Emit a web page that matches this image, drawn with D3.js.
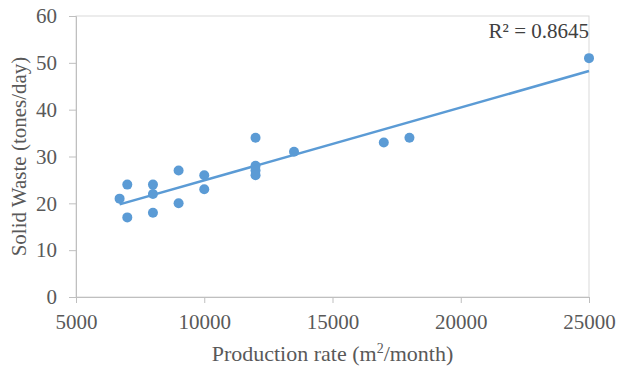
<!DOCTYPE html>
<html>
<head>
<meta charset="utf-8">
<script src="https://cdn.jsdelivr.net/npm/d3@7"></script>
<style>
  body { margin: 0; background: #fff; }
</style>
</head>
<body>
<figure id="scatter" style="margin:0"></figure>
<script>
// production rate (m2/month) vs solid waste (tones/day)
const productionRate = [6700, 7000, 7000, 8000, 8000, 8000, 9000, 9000, 10000, 10000,
  12000, 12000, 12000, 12000, 13500, 17000, 18000, 25000];
const solidWaste = [21, 24, 17, 24, 22, 18, 27, 20, 26, 23,
  34, 28, 27, 26, 31, 33, 34, 51];
const xTicks = [5000, 10000, 15000, 20000, 25000];
const yTicks = [0, 10, 20, 30, 40, 50, 60];

const width = 618, height = 367;
const margin = {top: 16, right: 29, bottom: 70, left: 76};
const blue = "#5b9bd5";
const serif = "'Liberation Serif', 'Times New Roman', serif";

const svg = d3.select("figure#scatter")
  .append("svg")
  .attr("width", width)
  .attr("height", height)
  .style("font-family", serif);

const x = d3.scaleLinear().domain([5000, 25000]).range([margin.left, width - margin.right]);
const y = d3.scaleLinear().domain([0, 60]).range([height - margin.bottom, margin.top]);

// plot area border
svg.append("rect")
  .attr("x", x(5000))
  .attr("y", y(60))
  .attr("width", x(25000) - x(5000))
  .attr("height", y(0) - y(60))
  .attr("fill", "none")
  .attr("stroke", "#d9d9d9");

const xAxis = svg.append("g")
  .attr("transform", "translate(0," + y(0) + ")")
  .call(d3.axisBottom(x).tickValues(xTicks).tickFormat(d3.format("d")).tickSize(6).tickPadding(11));

const yAxis = svg.append("g")
  .attr("transform", "translate(" + x(5000) + ",0)")
  .call(d3.axisLeft(y).tickValues(yTicks).tickSize(7).tickPadding(12));

[xAxis, yAxis].forEach(g => {
  g.attr("font-family", serif).attr("font-size", 21);
  g.select(".domain").attr("stroke", "#bfbfbf");
  g.selectAll(".tick line").attr("stroke", "#bfbfbf");
  g.selectAll("text").attr("fill", "#595959");
});

// linear trend line
const pts = productionRate.map((v, i) => ({x: v, y: solidWaste[i]}));
const mx = d3.mean(pts, d => d.x), my = d3.mean(pts, d => d.y);
const sxy = d3.sum(pts, d => (d.x - mx) * (d.y - my));
const sxx = d3.sum(pts, d => (d.x - mx) ** 2);
const syy = d3.sum(pts, d => (d.y - my) ** 2);
const slope = sxy / sxx, intercept = my - slope * mx;
const r2 = sxy * sxy / (sxx * syy);
const xExt = d3.extent(productionRate);

svg.append("path")
  .datum(xExt.map(v => [v, intercept + slope * v]))
  .attr("d", d3.line().x(d => x(d[0])).y(d => y(d[1])))
  .attr("fill", "none")
  .attr("stroke", blue)
  .attr("stroke-width", 2.5);

svg.selectAll("circle.pt")
  .data(pts)
  .enter()
  .append("circle")
  .attr("class", "pt")
  .attr("cx", d => x(d.x))
  .attr("cy", d => y(d.y))
  .attr("r", 5)
  .attr("fill", blue);

svg.append("text")
  .attr("x", x(25000))
  .attr("y", 38)
  .attr("text-anchor", "end")
  .attr("font-size", 21)
  .attr("fill", "#404040")
  .text("R² = " + r2.toFixed(4));

const xTitle = svg.append("text")
  .attr("x", (x(5000) + x(25000)) / 2)
  .attr("y", 361)
  .attr("text-anchor", "middle")
  .attr("font-size", 22)
  .attr("fill", "#595959");
xTitle.append("tspan").text("Production rate (m");
xTitle.append("tspan").attr("dy", -8).attr("font-size", 14).text("2");
xTitle.append("tspan").attr("dy", 8).text("/month)");

svg.append("text")
  .attr("transform", "translate(26," + (y(0) + y(60)) / 2 + ") rotate(-90)")
  .attr("text-anchor", "middle")
  .attr("font-size", 21)
  .attr("fill", "#595959")
  .text("Solid Waste (tones/day)");
</script>
</body>
</html>
